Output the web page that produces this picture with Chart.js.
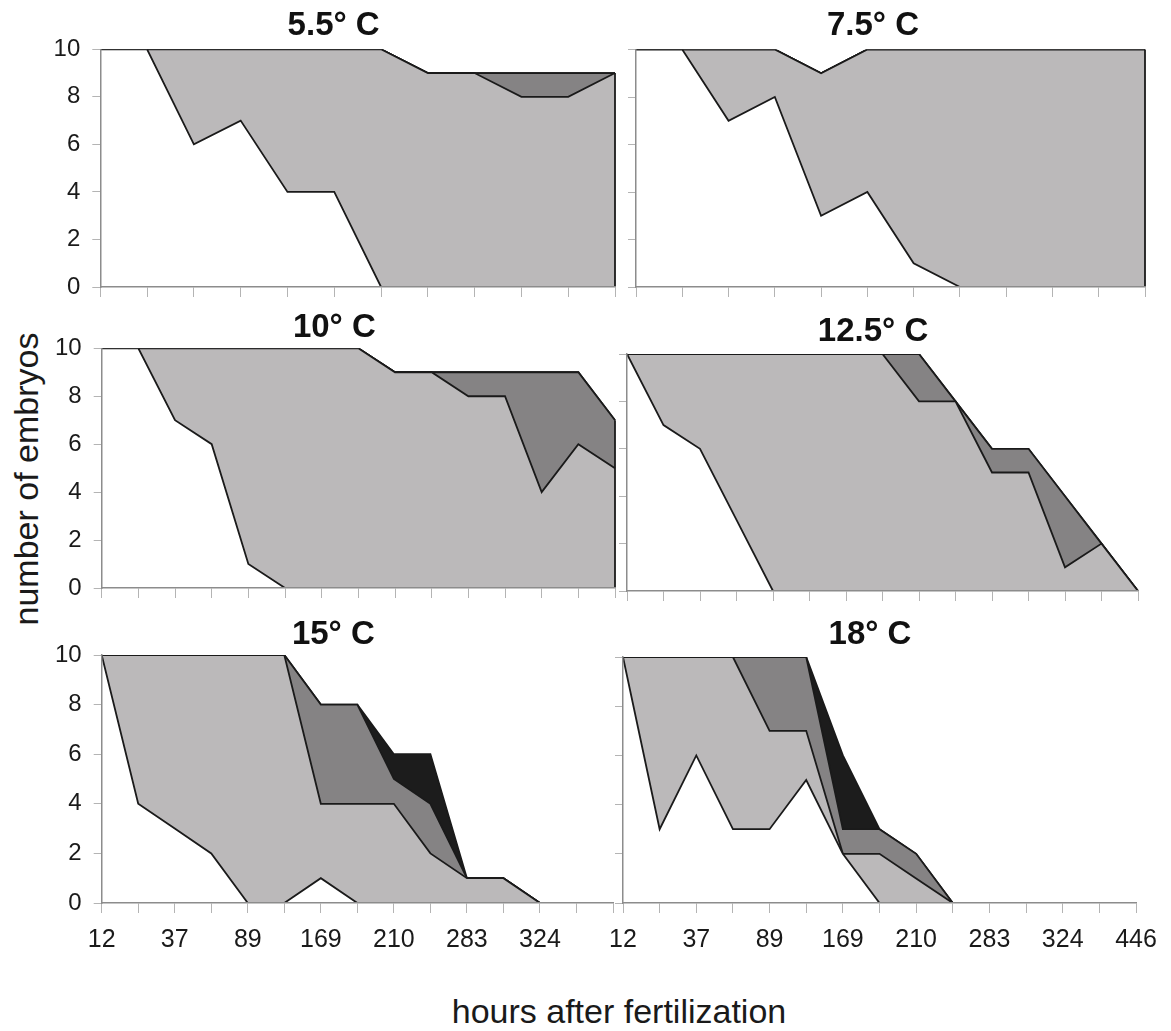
<!DOCTYPE html>
<html lang="en">
<head>
<meta charset="UTF-8">
<title>Embryo development at six temperatures</title>
<script src="https://cdn.jsdelivr.net/npm/chart.js@4.4.1/dist/chart.umd.min.js"></script>
<style>
  body { margin: 0; background: #fff; font-family: "Liberation Sans", Arial, sans-serif; }
  #figure { position: relative; width: 1171px; height: 1031px; overflow: hidden; }
  #figure canvas { position: absolute; }
  .axis-title { position: absolute; color: #1a1a1a; font-size: 34px; line-height: 34px; white-space: nowrap; }
  #yTitle { left: 26px; top: 479px; transform: translate(-50%, -50%) rotate(-90deg); }
  #xTitle { left: 619px; top: 994px; transform: translateX(-50%); }
</style>
</head>
<body>
<div id="figure">
  <div class="axis-title" id="yTitle">number of embryos</div>
  <div class="axis-title" id="xTitle">hours after fertilization</div>
</div>
<script>
// sampling times (h); only every other one is printed on the axis
const hours = ['12', '', '37', '', '89', '', '169', '', '210', '', '283', '', '324', '', '446'];
// top row was sampled 12 times, times not printed
const topRowTimes = ['', '', '', '', '', '', '', '', '', '', '', ''];

// 5.5 °C
const t55White = [10, 10, 6, 7, 4, 4, 0, 0, 0, 0, 0, 0];
const t55Light = [0, 0, 4, 3, 6, 6, 10, 9, 9, 8, 8, 9];
const t55Dark  = [0, 0, 0, 0, 0, 0, 0, 0, 0, 1, 1, 0];
const t55Black = [0, 0, 0, 0, 0, 0, 0, 0, 0, 0, 0, 0];

// 7.5 °C
const t75White = [10, 10, 7, 8, 3, 4, 1, 0, 0, 0, 0, 0];
const t75Light = [0, 0, 3, 2, 6, 6, 9, 10, 10, 10, 10, 10];
const t75Dark  = [0, 0, 0, 0, 0, 0, 0, 0, 0, 0, 0, 0];
const t75Black = [0, 0, 0, 0, 0, 0, 0, 0, 0, 0, 0, 0];

// 10 °C
const t10White = [10, 10, 7, 6, 1, 0, 0, 0, 0, 0, 0, 0, 0, 0, 0];
const t10Light = [0, 0, 3, 4, 9, 10, 10, 10, 9, 9, 8, 8, 4, 6, 5];
const t10Dark  = [0, 0, 0, 0, 0, 0, 0, 0, 0, 0, 1, 1, 5, 3, 2];
const t10Black = [0, 0, 0, 0, 0, 0, 0, 0, 0, 0, 0, 0, 0, 0, 0];

// 12.5 °C
const t125White = [10, 7, 6, 3, 0, 0, 0, 0, 0, 0, 0, 0, 0, 0, 0];
const t125Light = [0, 3, 4, 7, 10, 10, 10, 10, 8, 8, 5, 5, 1, 2, 0];
const t125Dark  = [0, 0, 0, 0, 0, 0, 0, 0, 2, 0, 1, 1, 3, 0, 0];
const t125Black = [0, 0, 0, 0, 0, 0, 0, 0, 0, 0, 0, 0, 0, 0, 0];

// 15 °C
const t15White = [10, 4, 3, 2, 0, 0, 1, 0, 0, 0, 0, 0, 0, 0, 0];
const t15Light = [0, 6, 7, 8, 10, 10, 3, 4, 4, 2, 1, 1, 0, 0, 0];
const t15Dark  = [0, 0, 0, 0, 0, 0, 4, 4, 1, 2, 0, 0, 0, 0, 0];
const t15Black = [0, 0, 0, 0, 0, 0, 0, 0, 1, 2, 0, 0, 0, 0, 0];

// 18 °C
const t18White = [10, 3, 6, 3, 3, 5, 2, 0, 0, 0, 0, 0, 0, 0, 0];
const t18Light = [0, 7, 4, 7, 4, 2, 0, 2, 1, 0, 0, 0, 0, 0, 0];
const t18Dark  = [0, 0, 0, 0, 3, 3, 1, 1, 1, 0, 0, 0, 0, 0, 0];
const t18Black = [0, 0, 0, 0, 0, 0, 3, 0, 0, 0, 0, 0, 0, 0, 0];

const yTicks = [0, 2, 4, 6, 8, 10];

const fills = ['#ffffff', '#bbb9ba', '#858384', '#1c1c1c'];
const lineColor = '#1a1a1a';
const axisColor = '#8c8c8c';
const tickColor = '#b4b4b4';
const textColor = '#1a1a1a';
const LINE_W = 1.8;

Chart.defaults.font.family = '"Liberation Sans", Arial, sans-serif';

// plot box of each panel in page pixels, plus where its title sits
const panels = [
  { title: '5.5° C',  labels: topRowTimes, series: [t55White, t55Light, t55Dark, t55Black],
    x0: 100.3, x1: 615, y10: 49.3, y0: 286.7, tx: 335, ty: 24.5, yLabels: true, xLabels: false },
  { title: '7.5° C',  labels: topRowTimes, series: [t75White, t75Light, t75Dark, t75Black],
    x0: 636, x1: 1145, y10: 49.5, y0: 286.7, tx: 873, ty: 24.5, yLabels: false, xLabels: false },
  { title: '10° C',   labels: hours, series: [t10White, t10Light, t10Dark, t10Black],
    x0: 101.7, x1: 615, y10: 348.3, y0: 588.3, tx: 338, ty: 326, yLabels: true, xLabels: false },
  { title: '12.5° C', labels: hours, series: [t125White, t125Light, t125Dark, t125Black],
    x0: 627, x1: 1138, y10: 354, y0: 591, tx: 873, ty: 330, yLabels: false, xLabels: false },
  { title: '15° C',   labels: hours, series: [t15White, t15Light, t15Dark, t15Black],
    x0: 101.7, x1: 613, y10: 655, y0: 903, tx: 338, ty: 633, yLabels: true, xLabels: true, lastLabel: false },
  { title: '18° C',   labels: hours, series: [t18White, t18Light, t18Dark, t18Black],
    x0: 623, x1: 1136, y10: 657, y0: 903, tx: 870, ty: 633, yLabels: false, xLabels: true, lastLabel: true }
];

// closes the stack with a vertical edge at the last sample
const closeRightEdge = {
  id: 'closeRightEdge',
  afterDatasetsDraw(chart) {
    const xs = chart.scales.x, ys = chart.scales.y;
    const last = chart.data.labels.length - 1;
    let total = 0;
    chart.data.datasets.forEach(ds => { total += ds.data[last]; });
    if (!total) return;
    const ctx = chart.ctx;
    const px = xs.getPixelForValue(last);
    ctx.save();
    ctx.strokeStyle = lineColor;
    ctx.lineWidth = LINE_W;
    ctx.beginPath();
    ctx.moveTo(px, ys.getPixelForValue(0));
    ctx.lineTo(px, ys.getPixelForValue(total));
    ctx.stroke();
    ctx.restore();
  }
};

const figure = document.getElementById('figure');
const PAD_RIGHT = 30;

panels.forEach(p => {
  const xAxisH = p.xLabels ? 60 : 16;
  const left = Math.round(p.x0 - (p.yLabels ? 100 : 40));
  const top = Math.round(p.ty - 18);
  // tick labels are clipped to the axis box, so labelled axes need room
  let padLeft = Math.max(0, 2 * p.tx - p.x1 - left);
  if (p.yLabels) padLeft = Math.min(padLeft, p.x0 - left - 48);
  const yAxisW = p.x0 - left - padLeft;
  const width = Math.round(p.x1 - left + PAD_RIGHT);
  const height = Math.round(p.y0 - top + xAxisH);

  const canvas = document.createElement('canvas');
  canvas.width = width;
  canvas.height = height;
  canvas.style.left = left + 'px';
  canvas.style.top = top + 'px';
  canvas.style.width = width + 'px';
  canvas.style.height = height + 'px';
  figure.appendChild(canvas);

  const lastIdx = p.labels.length - 1;

  new Chart(canvas, {
    type: 'line',
    data: {
      labels: p.labels,
      datasets: p.series.map((values, i) => ({
        data: values,
        backgroundColor: fills[i],
        borderColor: lineColor,
        borderWidth: LINE_W,
        fill: i === 0 ? 'origin' : '-1',
        pointRadius: 0,
        tension: 0
      }))
    },
    options: {
      responsive: false,
      devicePixelRatio: 1,
      animation: false,
      layout: { padding: { left: padLeft, right: PAD_RIGHT, top: 0, bottom: 0 } },
      plugins: {
        legend: { display: false },
        tooltip: { enabled: false },
        title: {
          display: true,
          text: p.title,
          color: '#111111',
          font: { size: 33, weight: 'bold' },
          padding: { top: p.ty - 18 - top, bottom: p.y10 - p.ty - 21.6 }
        }
      },
      scales: {
        x: {
          type: 'category',
          offset: false,
          grid: { drawOnChartArea: false, drawTicks: true, tickLength: 10, color: tickColor, lineWidth: 1 },
          border: { display: true, color: axisColor, width: 1.5, z: 1 },
          ticks: {
            display: p.xLabels,
            autoSkip: false,
            maxRotation: 0,
            minRotation: 0,
            padding: 12,
            color: textColor,
            font: { size: 25 },
            callback(value, index) {
              if (index === lastIdx && !p.lastLabel) return '';
              return this.getLabelForValue(value);
            }
          },
          afterFit(scale) {
            scale.height = xAxisH;
            scale.paddingLeft = 0;
            scale.paddingRight = 0;
          }
        },
        y: {
          type: 'linear',
          stacked: true,
          min: 0,
          max: 10,
          afterBuildTicks(scale) {
            scale.ticks = yTicks.map(v => ({ value: v }));
          },
          grid: { drawOnChartArea: false, drawTicks: true, tickLength: 8, color: tickColor, lineWidth: 1 },
          border: { display: true, color: axisColor, width: 1.5, z: 1 },
          ticks: { display: p.yLabels, padding: 12, color: textColor, font: { size: 24 } },
          afterFit(scale) {
            scale.width = yAxisW;
            scale.paddingTop = 0;
            scale.paddingBottom = 0;
          }
        }
      }
    },
    plugins: [closeRightEdge]
  });
});
</script>
</body>
</html>
